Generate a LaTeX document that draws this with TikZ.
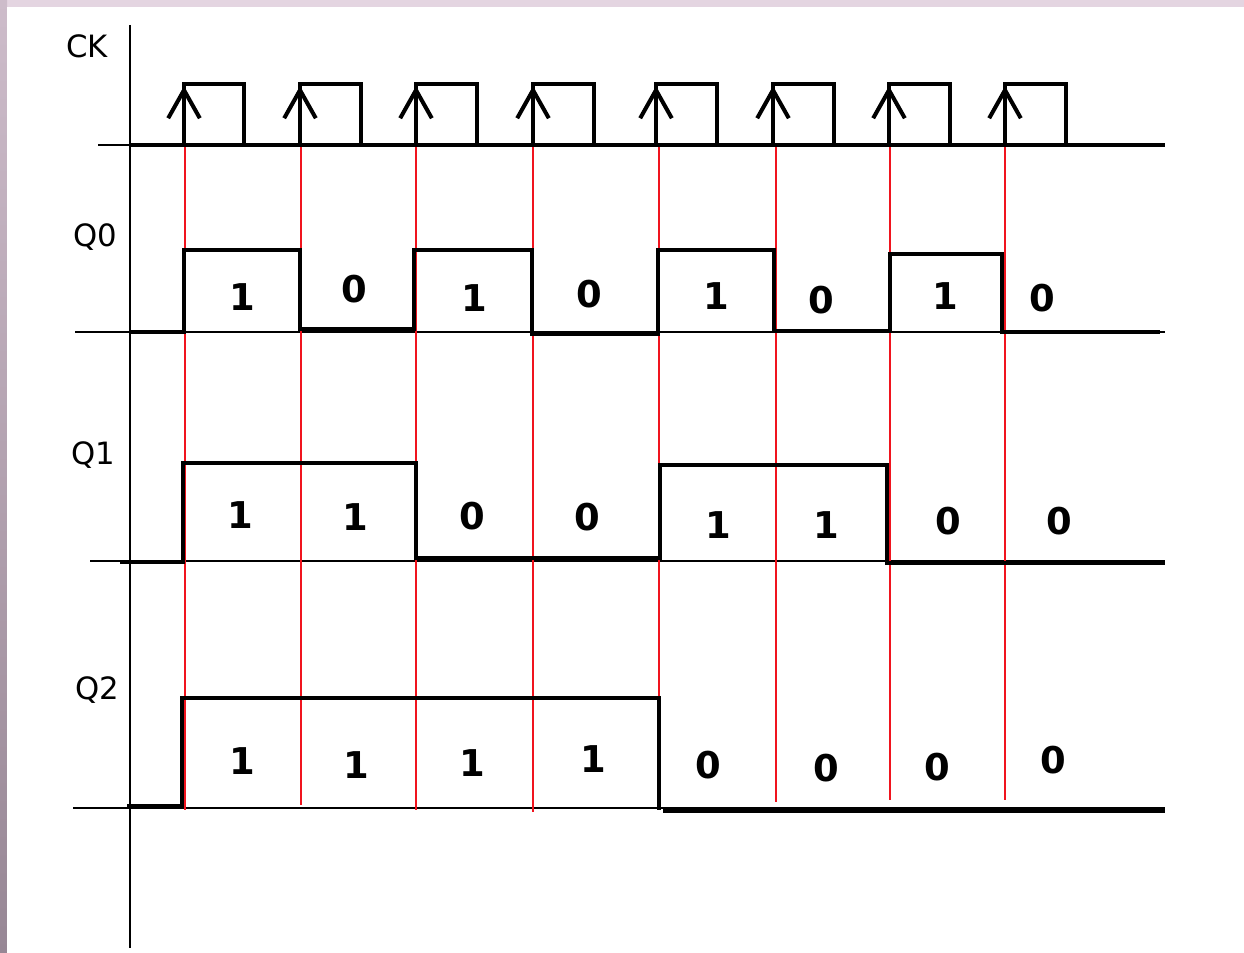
\documentclass[tikz,border=0pt]{standalone}
\usepackage{fontspec}
\setmainfont{DejaVu Sans}
\usepackage{tikz}
\usetikzlibrary{
  positioning,
  arrows.meta
}
\definecolor{frametop}{HTML}{E4D5E1}
\definecolor{frameleftA}{HTML}{CDBCCA}
\definecolor{frameleftB}{HTML}{978795}
\definecolor{edgered}{HTML}{F0141E}
\tikzset{
  axisline/.style={line width=1.1pt,black},
  signal/.style={line width=2.3pt,black,line join=miter},
  clockedge/.style={line width=0.9pt,color=edgered},
  bitlabel/.style={font=\fontsize{21}{21}\selectfont\bfseries,inner sep=0pt},
  rowlabel/.style={font=\fontsize{17.5}{18}\selectfont,inner sep=0pt}
}
\begin{document}
\begin{tikzpicture}[x=0.02cm,y=-0.02cm]
		\useasboundingbox (0,0) rectangle (1244,953);
		% frame of the window
		\fill [frametop] (0,0) rectangle (1244,7);
		\shade [top color=frameleftA,bottom color=frameleftB] (0,0) rectangle (7,953);
		\fill [white] (7,7) rectangle (1244,953);
		% axis and baselines
		\draw [axisline] (130,25) -- (130,948);
		\draw [axisline] (98,145) -- (1165,145);
		\draw [axisline] (75,332) -- (1165,332);
		\draw [axisline] (90,561) -- (1165,561);
		\draw [axisline] (73,808) -- (1165,808);
		\node [rowlabel] (lblck) at (87,46) {CK};
		\node [rowlabel] (lblqa) at (95,237) {Q0};
		\node [rowlabel] (lblqb) at (93,455) {Q1};
		\node [rowlabel] (lblqc) at (97,690) {Q2};
		% clock pulses
		\draw [signal] (130,145) -- (1165,145);
		\foreach \r/\f in {184/244,300/361,416/477,533/594,656/717,773/834,889/950,1005/1066}{
		    \draw [signal] (\r,145) -- (\r,84) -- (\f,84) -- (\f,145);
		    \draw [signal,-{Straight Barb[length=16pt,width=18pt]}] (\r,140) -- (\r,86);
		}
		% red lines at rising edges
		\foreach \x/\yend in {185/810,301/805,416/810,533/812,659/810,776/802,890/800,1005/800}{
		    \draw [clockedge] (\x,147) -- (\x,\yend);
		}
		% Q0
		\draw [signal] (130,332) -- (184,332) -- (184,250) -- (300,250) -- (300,329)
		    -- (414,329) -- (414,250) -- (532,250) -- (532,334) -- (658,334)
		    -- (658,250) -- (774,250) -- (774,331) -- (890,331) -- (890,254)
		    -- (1002,254) -- (1002,332) -- (1160,332);
		\foreach \x/\y/\b [count=\i] in {242/297/1,354/289/0,474/298/1,589/294/0,716/296/1,821/300/0,945/296/1,1042/298/0}{
		    \node [bitlabel] (qa\i) at (\x,\y) {\b};
		}
		% Q1
		\draw [signal] (120,562) -- (183,562) -- (183,463) -- (416,463) -- (416,558)
		    -- (660,558) -- (660,465) -- (887,465) -- (887,563) -- (1165,563);
		\foreach \x/\y/\b [count=\i] in {240/515/1,355/517/1,472/516/0,587/517/0,718/525/1,826/525/1,948/521/0,1059/521/0}{
		    \node [bitlabel] (qb\i) at (\x,\y) {\b};
		}
		% Q2
		\draw [signal] (127,806) -- (182,806) -- (182,698) -- (659,698) -- (659,810);
		\draw [signal] (663,811) -- (1165,811);
		\foreach \x/\y/\b [count=\i] in {242/761/1,356/765/1,472/763/1,593/759/1,708/765/0,826/768/0,937/767/0,1053/760/0}{
		    \node [bitlabel] (qc\i) at (\x,\y) {\b};
		}
	\end{tikzpicture}
\end{document}
